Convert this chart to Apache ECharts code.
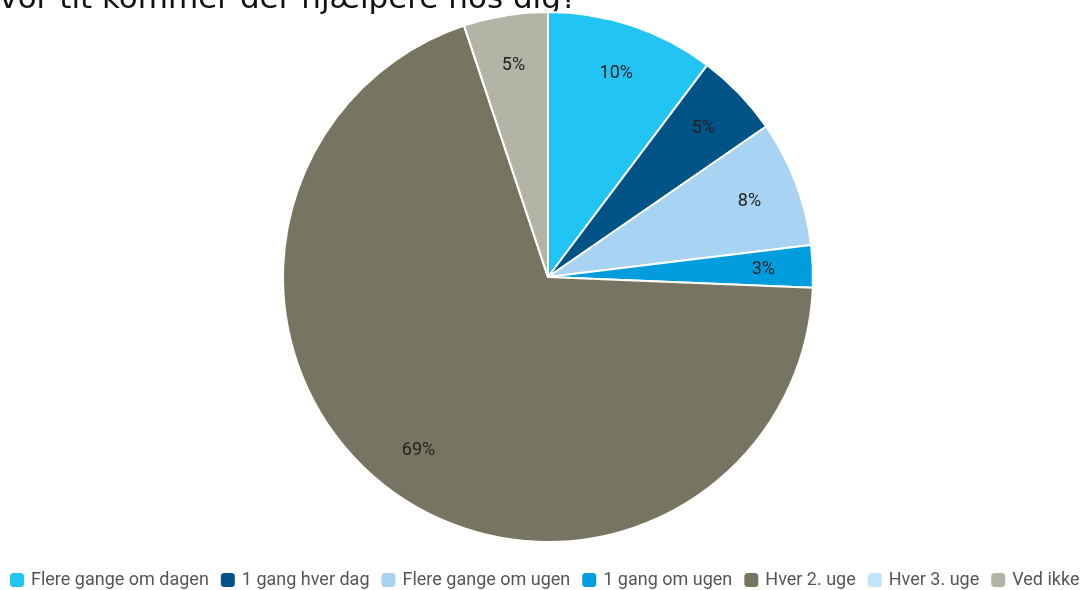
<!DOCTYPE html>
<html>
<head>
<meta charset="utf-8">
<script src="https://cdn.jsdelivr.net/npm/echarts@6/dist/echarts.min.js"></script>
<style>
  html, body { margin: 0; padding: 0; background: #fff; }
  #main { width: 1091px; height: 590px; }
</style>
</head>
<body>
<div id="main"></div>
<script>
// svar-kategorier og antal (n = 39)
var categories = ['Flere gange om dagen', '1 gang hver dag', 'Flere gange om ugen', '1 gang om ugen', 'Hver 2. uge', 'Hver 3. uge', 'Ved ikke'];
var counts = [4, 2, 3, 1, 27, 0, 2];
var colors = ['#21C4F2', '#005386', '#A8D3F3', '#009DDE', '#777562', '#BDE6FA', '#B3B3A6'];
var titleText = 'Hvor tit kommer der hjælpere hos dig?';

var chart = echarts.init(document.getElementById('main'), null, { renderer: 'canvas' });

var pieData = categories.map(function (name, i) {
  return { name: name, value: counts[i], itemStyle: { color: colors[i] } };
});
// samme data, kun til labels (gennemsigtig ring så labels sidder længere ude)
var labelData = categories.map(function (name, i) {
  return { name: name, value: counts[i] };
});

var option = {
  animation: false,
  graphic: [{
    type: 'text',
    left: -24,
    top: -16,
    style: {
      text: titleText,
      font: '31px "DejaVu Sans"',
      fill: '#111'
    }
  }],
  legend: {
    data: categories,
    left: 5,
    top: 566,
    width: 1200,
    itemWidth: 14,
    itemHeight: 14,
    itemGap: 12,
    icon: 'roundRect',
    itemStyle: { borderWidth: 0 },
    textStyle: { fontFamily: 'Roboto', fontSize: 18, color: '#555', padding: [0, 0, 0, 2] }
  },
  series: [{
    name: 'main',
    type: 'pie',
    center: [548, 277],
    radius: [0, 265],
    startAngle: 90,
    clockwise: true,
    avoidLabelOverlap: false,
    itemStyle: { borderColor: '#fff', borderWidth: 2 },
    label: { show: false },
    labelLine: { show: false },
    emphasis: { disabled: true },
    data: pieData
  }, {
    name: 'labels',
    type: 'pie',
    center: [548, 278],
    radius: [160, 265],
    startAngle: 90,
    clockwise: true,
    silent: true,
    avoidLabelOverlap: false,
    itemStyle: { color: 'rgba(0,0,0,0)', borderWidth: 0 },
    label: {
      show: true,
      position: 'inside',
      fontFamily: 'Roboto',
      fontSize: 18,
      color: '#222',
      formatter: function (p) {
        return p.value > 0 ? Math.round(p.percent) + '%' : '';
      }
    },
    labelLine: { show: false },
    emphasis: { disabled: true },
    data: labelData
  }]
};

chart.setOption(option);
</script>
</body>
</html>
